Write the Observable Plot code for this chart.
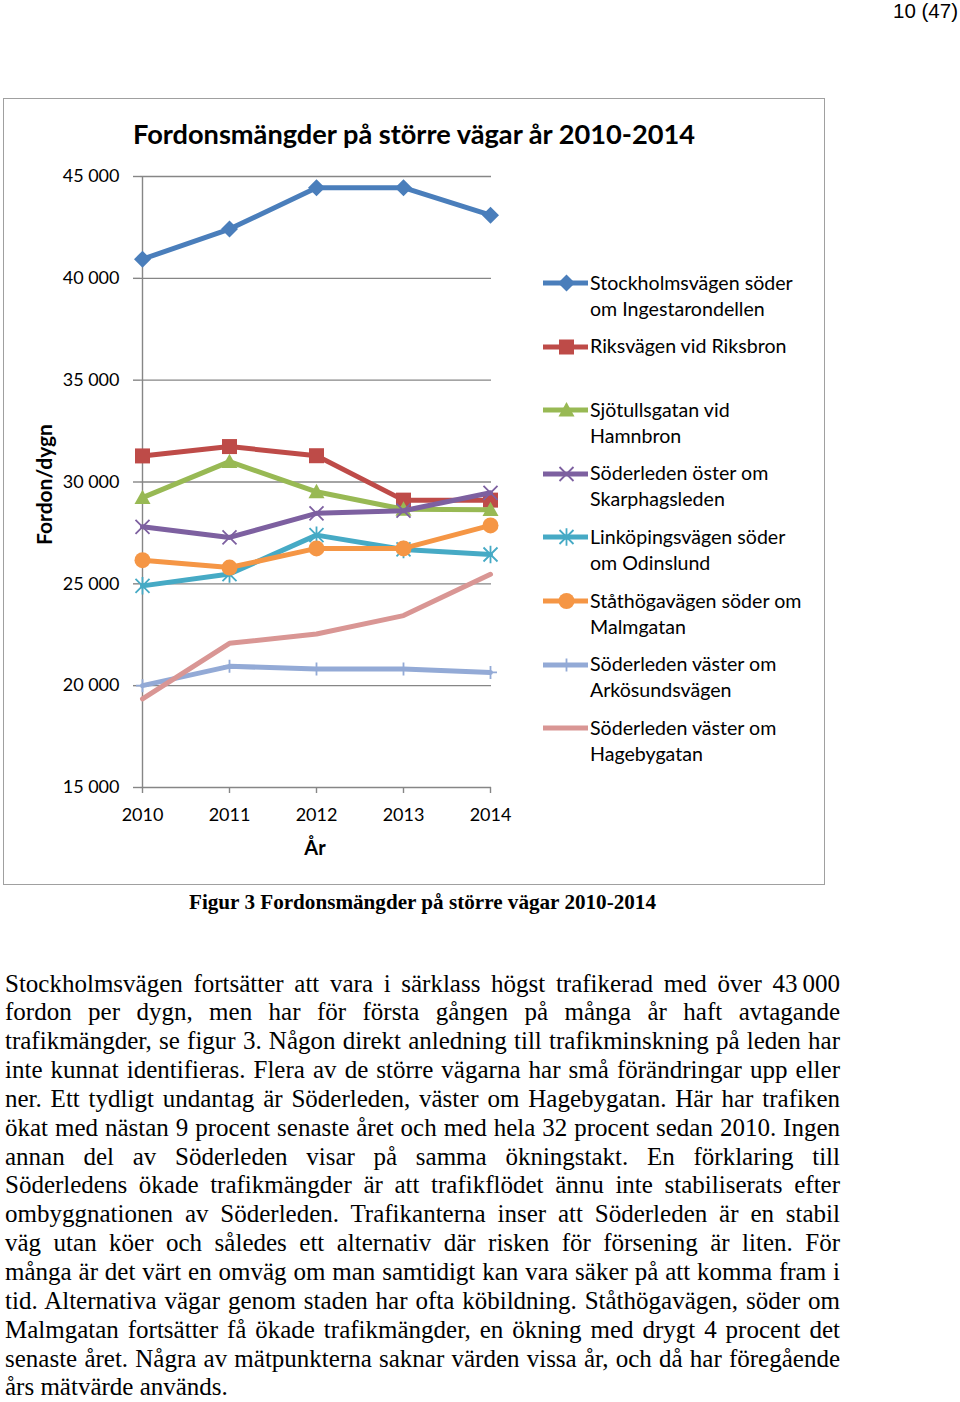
<!DOCTYPE html>
<html><head><meta charset="utf-8">
<script src="https://cdn.jsdelivr.net/npm/d3@7"></script>
<script src="https://cdn.jsdelivr.net/npm/@observablehq/plot@0.6"></script>
<style>
html,body{margin:0;padding:0;background:#fff;}
#page{position:relative;width:960px;height:1402px;overflow:hidden;color:#000;}
.abs{position:absolute;white-space:pre;line-height:1;}
#frame{position:absolute;left:3px;top:98px;width:822px;height:787px;border:1.5px solid #A0A0A0;box-sizing:border-box;}
#chart{position:absolute;left:3px;top:98px;}
</style></head><body><div id="page"><div id="frame"></div><div id="chart"></div></div>
<script>
// ---------- data ----------
const years = [2010, 2011, 2012, 2013, 2014];
const seriesNames = [
  "Stockholmsvägen söder om Ingestarondellen",
  "Riksvägen vid Riksbron",
  "Sjötullsgatan vid Hamnbron",
  "Söderleden öster om Skarphagsleden",
  "Linköpingsvägen söder om Odinslund",
  "Ståthögavägen söder om Malmgatan",
  "Söderleden väster om Arkösundsvägen",
  "Söderleden väster om Hagebygatan"
];
const legendLabels = [
  "Stockholmsvägen söder\nom Ingestarondellen",
  "Riksvägen vid Riksbron",
  "Sjötullsgatan vid\nHamnbron",
  "Söderleden öster om\nSkarphagsleden",
  "Linköpingsvägen söder\nom Odinslund",
  "Ståthögavägen söder om\nMalmgatan",
  "Söderleden väster om\nArkösundsvägen",
  "Söderleden väster om\nHagebygatan"
];
const stockholmsvagen = [40940, 42420, 44450, 44450, 43100];
const riksvagen       = [31280, 31740, 31290, 29110, 29110];
const sjotullsgatan   = [29230, 31000, 29520, 28660, 28640];
const soderledenOster = [27800, 27280, 28460, 28590, 29470];
const linkopingsvagen = [24900, 25480, 27390, 26690, 26440];
const stathogavagen   = [26160, 25800, 26740, 26740, 27870];
const soderledenArko  = [20000, 20950, 20820, 20820, 20650];
const soderledenHage  = [19350, 22080, 22540, 23440, 25470];
const seriesValues = [stockholmsvagen, riksvagen, sjotullsgatan, soderledenOster,
                      linkopingsvagen, stathogavagen, soderledenArko, soderledenHage];
const yTicks = [15000, 20000, 25000, 30000, 35000, 40000, 45000];

const chartTitle = "Fordonsmängder på större vägar år 2010-2014";
const yTitle = "Fordon/dygn";
const xTitle = "År";
const caption = "Figur 3 Fordonsmängder på större vägar 2010-2014";
const pageNumber = "10 (47)";
const paragraphLines = [
  "Stockholmsvägen fortsätter att vara i särklass högst trafikerad med över 43\u2009000",
  "fordon per dygn, men har för första gången på många år haft avtagande",
  "trafikmängder, se figur 3. Någon direkt anledning till trafikminskning på leden har",
  "inte kunnat identifieras. Flera av de större vägarna har små förändringar upp eller",
  "ner. Ett tydligt undantag är Söderleden, väster om Hagebygatan. Här har trafiken",
  "ökat med nästan 9 procent senaste året och med hela 32 procent sedan 2010. Ingen",
  "annan del av Söderleden visar på samma ökningstakt. En förklaring till",
  "Söderledens ökade trafikmängder är att trafikflödet ännu inte stabiliserats efter",
  "ombyggnationen av Söderleden. Trafikanterna inser att Söderleden är en stabil",
  "väg utan köer och således ett alternativ där risken för försening är liten. För",
  "många är det värt en omväg om man samtidigt kan vara säker på att komma fram i",
  "tid. Alternativa vägar genom staden har ofta köbildning. Ståthögavägen, söder om",
  "Malmgatan fortsätter få ökade trafikmängder, en ökning med drygt 4 procent det",
  "senaste året. Några av mätpunkterna saknar värden vissa år, och då har föregående",
  "års mätvärde används."
];

// ---------- styles ----------
const colors = ["#4A7EBB", "#BE4B48", "#98B954", "#7D60A0", "#46AAC5", "#F59645", "#93AAD6", "#D99694"];
function sym(fn) { return {draw(ctx, size) { fn(ctx, Math.sqrt(size / Math.PI)); }}; }
const diamondSym = sym((c, r) => { c.moveTo(0, -r); c.lineTo(r, 0); c.lineTo(0, r); c.lineTo(-r, 0); c.closePath(); });
const squareSym = sym((c, r) => { c.rect(-r, -r, 2 * r, 2 * r); });
const triangleSym = sym((c, r) => { c.moveTo(0, -r); c.lineTo(r, r * 0.8); c.lineTo(-r, r * 0.8); c.closePath(); });
const timesSym = sym((c, r) => { c.moveTo(-r, -r); c.lineTo(r, r); c.moveTo(-r, r); c.lineTo(r, -r); });
const starSym = sym((c, r) => { c.moveTo(-r, -r); c.lineTo(r, r); c.moveTo(-r, r); c.lineTo(r, -r); c.moveTo(0, -r * 1.25); c.lineTo(0, r * 1.25); });
const circleSym = sym((c, r) => { c.moveTo(r, 0); c.arc(0, 0, r, 0, 2 * Math.PI); });
const plusSym = sym((c, r) => { c.moveTo(0, -r); c.lineTo(0, r); c.moveTo(-r, 0); c.lineTo(r, 0); });
const markers = [
  {s: diamondSym, r: 8.5, filled: true},
  {s: squareSym, r: 7.5, filled: true},
  {s: triangleSym, r: 8, filled: true},
  {s: timesSym, r: 7, filled: false},
  {s: starSym, r: 7, filled: false},
  {s: circleSym, r: 8, filled: true},
  {s: plusSym, r: 6.5, filled: false},
  null
];

// ---------- table ----------
const rows = [];
seriesNames.forEach((name, i) => years.forEach((yr, j) => rows.push({series: name, year: yr, value: seriesValues[i][j]})));

const gridColor = "#868686";
const marks = [
  Plot.gridY(yTicks, {stroke: gridColor, strokeOpacity: 1, strokeWidth: 1.4}),
  Plot.ruleX([years[0]], {stroke: gridColor, strokeWidth: 1.4}),
  Plot.axisY(yTicks, {tickSize: 7, tickPadding: 14, stroke: gridColor, strokeWidth: 1.4, label: null,
    tickFormat: d => d3.format(",")(d).replace(/,/g, " ")}),
  Plot.axisX(years, {tickSize: 6, tickPadding: 15, stroke: gridColor, strokeWidth: 1.4, label: null,
    tickFormat: d => String(d)})
];
seriesNames.forEach((name, i) => {
  const data = rows.filter(d => d.series === name);
  marks.push(Plot.line(data, {x: "year", y: "value", stroke: colors[i], strokeWidth: 5, strokeLinejoin: "round"}));
  const m = markers[i];
  if (m) {
    marks.push(Plot.dot(data, m.filled
      ? {x: "year", y: "value", symbol: m.s, r: m.r, fill: colors[i], stroke: "none"}
      : {x: "year", y: "value", symbol: m.s, r: m.r, fill: "none", stroke: colors[i], strokeWidth: 1.8}));
  }
});

const chart = Plot.plot({
  width: 822, height: 787,
  marginLeft: 137, marginRight: 334, marginTop: 78, marginBottom: 98,
  style: {fontFamily: "Lato, sans-serif", fontSize: "18px", color: "#000", background: "transparent", overflow: "visible"},
  x: {type: "point", domain: years, padding: 0, label: null},
  y: {domain: [15000, 45000], label: null},
  marks
});
document.getElementById("chart").appendChild(chart);

// ---------- text helpers ----------
const page = document.getElementById("page");
function addText(txt, o) {
  const el = document.createElement("div");
  el.className = "abs";
  el.textContent = txt;
  Object.assign(el.style, {fontFamily: o.family, fontSize: o.size + "px", fontWeight: o.weight || "normal",
    top: (o.cy - o.size / 2) + "px", left: "0px"});
  page.appendChild(el);
  const w = el.getBoundingClientRect().width;
  const s = o.width ? o.width / w : 1;
  const ew = w * s;
  let left = o.x;
  if (o.anchor === "middle") left = o.x - ew / 2; else if (o.anchor === "end") left = o.x - ew;
  el.style.left = left + "px";
  el.style.transformOrigin = "0 0";
  if (s !== 1) el.style.transform = `scaleX(${s})`;
  return el;
}

addText(pageNumber, {x: 958, cy: 10.5, size: 21, family: "Liberation Sans, sans-serif", anchor: "end", width: 65});
addText(chartTitle, {x: 133, cy: 133, size: 27, weight: "bold", family: "Lato, sans-serif", width: 562});
addText(xTitle, {x: 315, cy: 847, size: 20, weight: "bold", family: "Lato, sans-serif", anchor: "middle"});
// rotated y title
{
  const el = document.createElement("div");
  el.className = "abs";
  el.textContent = yTitle;
  Object.assign(el.style, {fontFamily: "Lato, sans-serif", fontSize: "21px", fontWeight: "bold"});
  page.appendChild(el);
  const w = el.getBoundingClientRect().width;
  el.style.left = (43 - w / 2) + "px";
  el.style.top = (484 - 10.5) + "px";
  el.style.transformOrigin = "50% 50%";
  el.style.transform = "rotate(-90deg)";
}

// legend
legendLabels.forEach((lab, i) => {
  const cy = 283 + i * 63.6;
  const svgNS = "http://www.w3.org/2000/svg";
  const svg = document.createElementNS(svgNS, "svg");
  svg.setAttribute("width", 50); svg.setAttribute("height", 26);
  Object.assign(svg.style, {position: "absolute", left: "541px", top: (cy - 13) + "px", overflow: "visible"});
  const line = document.createElementNS(svgNS, "line");
  line.setAttribute("x1", 2); line.setAttribute("x2", 47); line.setAttribute("y1", 13); line.setAttribute("y2", 13);
  line.setAttribute("stroke", colors[i]); line.setAttribute("stroke-width", 5);
  svg.appendChild(line);
  const m = markers[i];
  if (m) {
    const p = d3.path();
    m.s.draw(p, m.r * m.r * Math.PI);
    const path = document.createElementNS(svgNS, "path");
    path.setAttribute("d", p.toString());
    path.setAttribute("transform", "translate(25.5,13)");
    if (m.filled) { path.setAttribute("fill", colors[i]); }
    else { path.setAttribute("fill", "none"); path.setAttribute("stroke", colors[i]); path.setAttribute("stroke-width", 1.8); }
    svg.appendChild(path);
  }
  page.appendChild(svg);
  const el = document.createElement("div");
  el.className = "abs";
  el.textContent = lab;
  Object.assign(el.style, {fontFamily: "Lato, sans-serif", fontSize: "19.6px", lineHeight: "26px",
    left: "590px", top: (cy - 13.5) + "px"});
  page.appendChild(el);
});

// caption
addText(caption, {x: 189, cy: 902, size: 21, weight: "bold", family: "Liberation Serif, serif", width: 467});

// paragraph, justified line by line
const W = 835;
paragraphLines.forEach((line, i) => {
  const el = document.createElement("div");
  el.className = "abs";
  el.textContent = line;
  const size = 25;
  Object.assign(el.style, {fontFamily: "Liberation Serif, serif", fontSize: size + "px", lineHeight: "0.84",
    left: "5px", top: (983 + i * 28.85 - size * 0.42) + "px", transformOrigin: "0 0"});
  page.appendChild(el);
  if (i < paragraphLines.length - 1) {
    const w = el.getBoundingClientRect().width;
    const n = (line.match(/ /g) || []).length;
    if (w <= W) el.style.wordSpacing = ((W - w) / n) + "px";
    else el.style.transform = `scaleX(${W / w})`;
  }
});
</script></body></html>
